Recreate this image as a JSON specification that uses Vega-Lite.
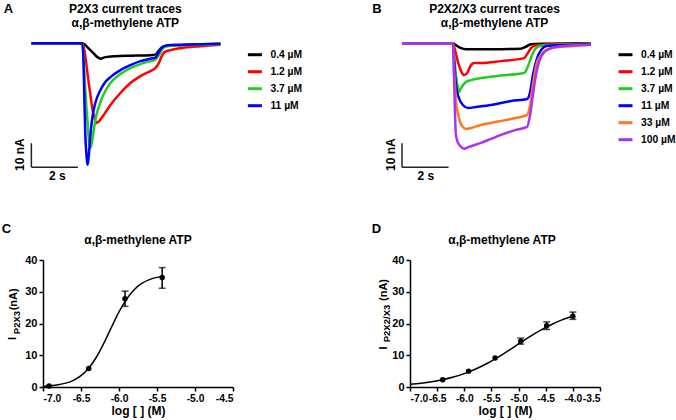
{
"$schema": "https://vega.github.io/schema/vega-lite/v6.json",
"background": "white",
"padding": {"left": 1, "top": 2, "right": 0, "bottom": 2},
"config": {
  "view": {"stroke": null},
  "font": "Liberation Sans",
  "axis": {"domainColor": "black", "domainWidth": 1.5, "tickColor": "black", "tickWidth": 1.5, "tickSize": 4, "labelColor": "black", "labelFont": "Liberation Sans", "labelFontWeight": "bold", "labelFontSize": 11, "labelPadding": 2, "titleFont": "Liberation Sans", "titleFontWeight": "bold", "titleFontSize": 12, "titleColor": "black", "grid": false, "labelOverlap": false},
  "axisX": {"labelFontSize": 10.3},
  "legend": {"orient": "none", "symbolType": "stroke", "symbolStrokeWidth": 3, "symbolSize": 196, "labelFont": "Liberation Sans", "labelFontWeight": "bold", "labelFontSize": 10.3, "labelColor": "black", "rowPadding": 2, "labelOffset": 7, "padding": 0, "title": null}
},
"datasets": {
  "traceA": [
    {"c": "0.4 µM", "t": 0, "I": 0}, {"c": "0.4 µM", "t": 2.11, "I": 0}, {"c": "0.4 µM", "t": 2.24, "I": -0.21}, {"c": "0.4 µM", "t": 2.45, "I": -2.08}, {"c": "0.4 µM", "t": 2.67, "I": -4.17}, {"c": "0.4 µM", "t": 2.84, "I": -5.83}, {"c": "0.4 µM", "t": 2.97, "I": -6.46}, {"c": "0.4 µM", "t": 3.18, "I": -5.83}, {"c": "0.4 µM", "t": 3.61, "I": -5.42}, {"c": "0.4 µM", "t": 4.26, "I": -5.21}, {"c": "0.4 µM", "t": 5.12, "I": -5.0}, {"c": "0.4 µM", "t": 5.33, "I": -4.79}, {"c": "0.4 µM", "t": 5.46, "I": -3.33}, {"c": "0.4 µM", "t": 5.63, "I": -1.67}, {"c": "0.4 µM", "t": 5.89, "I": -1.04}, {"c": "0.4 µM", "t": 6.41, "I": -0.83}, {"c": "0.4 µM", "t": 7.27, "I": -0.42}, {"c": "0.4 µM", "t": 8.13, "I": -0.21},
    {"c": "1.2 µM", "t": 0, "I": 0}, {"c": "1.2 µM", "t": 2.19, "I": 0}, {"c": "1.2 µM", "t": 2.28, "I": -2.92}, {"c": "1.2 µM", "t": 2.37, "I": -9.17}, {"c": "1.2 µM", "t": 2.45, "I": -15.42}, {"c": "1.2 µM", "t": 2.54, "I": -21.67}, {"c": "1.2 µM", "t": 2.62, "I": -27.08}, {"c": "1.2 µM", "t": 2.71, "I": -31.25}, {"c": "1.2 µM", "t": 2.80, "I": -33.33}, {"c": "1.2 µM", "t": 2.88, "I": -32.92}, {"c": "1.2 µM", "t": 3.05, "I": -30.83}, {"c": "1.2 µM", "t": 3.40, "I": -25.83}, {"c": "1.2 µM", "t": 3.83, "I": -20.83}, {"c": "1.2 µM", "t": 4.26, "I": -16.67}, {"c": "1.2 µM", "t": 4.69, "I": -13.75}, {"c": "1.2 µM", "t": 5.12, "I": -11.67}, {"c": "1.2 µM", "t": 5.33, "I": -10.42}, {"c": "1.2 µM", "t": 5.46, "I": -8.75}, {"c": "1.2 µM", "t": 5.59, "I": -5.83}, {"c": "1.2 µM", "t": 5.72, "I": -3.75}, {"c": "1.2 µM", "t": 5.98, "I": -2.92}, {"c": "1.2 µM", "t": 6.41, "I": -2.08}, {"c": "1.2 µM", "t": 7.27, "I": -1.25}, {"c": "1.2 µM", "t": 8.13, "I": -0.63},
    {"c": "3.7 µM", "t": 0, "I": 0}, {"c": "3.7 µM", "t": 2.19, "I": 0}, {"c": "3.7 µM", "t": 2.24, "I": -5.0}, {"c": "3.7 µM", "t": 2.32, "I": -19.58}, {"c": "3.7 µM", "t": 2.41, "I": -32.08}, {"c": "3.7 µM", "t": 2.49, "I": -41.67}, {"c": "3.7 µM", "t": 2.54, "I": -43.75}, {"c": "3.7 µM", "t": 2.62, "I": -40.42}, {"c": "3.7 µM", "t": 2.75, "I": -32.08}, {"c": "3.7 µM", "t": 2.97, "I": -24.58}, {"c": "3.7 µM", "t": 3.18, "I": -20.0}, {"c": "3.7 µM", "t": 3.40, "I": -16.67}, {"c": "3.7 µM", "t": 3.83, "I": -12.92}, {"c": "3.7 µM", "t": 4.26, "I": -10.42}, {"c": "3.7 µM", "t": 4.69, "I": -8.75}, {"c": "3.7 µM", "t": 5.12, "I": -7.5}, {"c": "3.7 µM", "t": 5.33, "I": -6.88}, {"c": "3.7 µM", "t": 5.46, "I": -5.42}, {"c": "3.7 µM", "t": 5.63, "I": -2.5}, {"c": "3.7 µM", "t": 5.81, "I": -1.25}, {"c": "3.7 µM", "t": 6.41, "I": -0.83}, {"c": "3.7 µM", "t": 8.13, "I": -0.42},
    {"c": "11 µM", "t": 0, "I": 0}, {"c": "11 µM", "t": 2.19, "I": 0}, {"c": "11 µM", "t": 2.24, "I": -7.08}, {"c": "11 µM", "t": 2.28, "I": -23.75}, {"c": "11 µM", "t": 2.32, "I": -38.33}, {"c": "11 µM", "t": 2.37, "I": -46.67}, {"c": "11 µM", "t": 2.41, "I": -50.83}, {"c": "11 µM", "t": 2.45, "I": -48.75}, {"c": "11 µM", "t": 2.54, "I": -38.33}, {"c": "11 µM", "t": 2.62, "I": -31.25}, {"c": "11 µM", "t": 2.75, "I": -25.0}, {"c": "11 µM", "t": 2.97, "I": -19.58}, {"c": "11 µM", "t": 3.18, "I": -16.25}, {"c": "11 µM", "t": 3.40, "I": -14.17}, {"c": "11 µM", "t": 3.83, "I": -11.25}, {"c": "11 µM", "t": 4.26, "I": -9.17}, {"c": "11 µM", "t": 4.69, "I": -7.5}, {"c": "11 µM", "t": 5.12, "I": -6.46}, {"c": "11 µM", "t": 5.33, "I": -6.04}, {"c": "11 µM", "t": 5.46, "I": -4.17}, {"c": "11 µM", "t": 5.63, "I": -1.67}, {"c": "11 µM", "t": 5.85, "I": -0.83}, {"c": "11 µM", "t": 6.41, "I": -0.63}, {"c": "11 µM", "t": 8.13, "I": -0.21}
  ],
  "traceB": [
    {"c": "0.4 µM", "t": 0, "I": 0}, {"c": "0.4 µM", "t": 2.19, "I": 0}, {"c": "0.4 µM", "t": 2.32, "I": -0.83}, {"c": "0.4 µM", "t": 2.54, "I": -2.08}, {"c": "0.4 µM", "t": 2.75, "I": -2.5}, {"c": "0.4 µM", "t": 4.26, "I": -2.5}, {"c": "0.4 µM", "t": 5.11, "I": -2.29}, {"c": "0.4 µM", "t": 5.29, "I": -1.67}, {"c": "0.4 µM", "t": 5.55, "I": -0.42}, {"c": "0.4 µM", "t": 5.98, "I": -0.21}, {"c": "0.4 µM", "t": 8.13, "I": 0},
    {"c": "1.2 µM", "t": 0, "I": 0}, {"c": "1.2 µM", "t": 2.19, "I": 0}, {"c": "1.2 µM", "t": 2.28, "I": -2.92}, {"c": "1.2 µM", "t": 2.41, "I": -7.92}, {"c": "1.2 µM", "t": 2.54, "I": -11.67}, {"c": "1.2 µM", "t": 2.67, "I": -13.33}, {"c": "1.2 µM", "t": 2.80, "I": -12.5}, {"c": "1.2 µM", "t": 2.97, "I": -9.17}, {"c": "1.2 µM", "t": 3.10, "I": -8.33}, {"c": "1.2 µM", "t": 3.40, "I": -8.33}, {"c": "1.2 µM", "t": 4.26, "I": -7.5}, {"c": "1.2 µM", "t": 5.25, "I": -6.25}, {"c": "1.2 µM", "t": 5.38, "I": -4.58}, {"c": "1.2 µM", "t": 5.55, "I": -2.08}, {"c": "1.2 µM", "t": 5.76, "I": -0.83}, {"c": "1.2 µM", "t": 6.41, "I": -0.42}, {"c": "1.2 µM", "t": 8.13, "I": -0.21},
    {"c": "3.7 µM", "t": 0, "I": 0}, {"c": "3.7 µM", "t": 2.19, "I": 0}, {"c": "3.7 µM", "t": 2.24, "I": -5.0}, {"c": "3.7 µM", "t": 2.32, "I": -13.33}, {"c": "3.7 µM", "t": 2.41, "I": -18.75}, {"c": "3.7 µM", "t": 2.45, "I": -20.42}, {"c": "3.7 µM", "t": 2.54, "I": -18.75}, {"c": "3.7 µM", "t": 2.75, "I": -16.25}, {"c": "3.7 µM", "t": 2.97, "I": -15.42}, {"c": "3.7 µM", "t": 3.40, "I": -14.58}, {"c": "3.7 µM", "t": 4.26, "I": -13.54}, {"c": "3.7 µM", "t": 5.25, "I": -12.5}, {"c": "3.7 µM", "t": 5.42, "I": -9.58}, {"c": "3.7 µM", "t": 5.59, "I": -5.0}, {"c": "3.7 µM", "t": 5.76, "I": -2.08}, {"c": "3.7 µM", "t": 5.98, "I": -1.04}, {"c": "3.7 µM", "t": 6.84, "I": -0.63}, {"c": "3.7 µM", "t": 8.13, "I": -0.21},
    {"c": "11 µM", "t": 0, "I": 0}, {"c": "11 µM", "t": 2.19, "I": 0}, {"c": "11 µM", "t": 2.24, "I": -7.08}, {"c": "11 µM", "t": 2.32, "I": -17.5}, {"c": "11 µM", "t": 2.45, "I": -22.92}, {"c": "11 µM", "t": 2.62, "I": -25.83}, {"c": "11 µM", "t": 2.84, "I": -27.08}, {"c": "11 µM", "t": 3.18, "I": -26.67}, {"c": "11 µM", "t": 3.83, "I": -25.83}, {"c": "11 µM", "t": 4.69, "I": -24.17}, {"c": "11 µM", "t": 5.38, "I": -23.33}, {"c": "11 µM", "t": 5.51, "I": -20.42}, {"c": "11 µM", "t": 5.63, "I": -13.33}, {"c": "11 µM", "t": 5.81, "I": -6.25}, {"c": "11 µM", "t": 5.98, "I": -2.92}, {"c": "11 µM", "t": 6.19, "I": -1.25}, {"c": "11 µM", "t": 6.84, "I": -0.83}, {"c": "11 µM", "t": 8.13, "I": -0.42},
    {"c": "33 µM", "t": 0, "I": 0}, {"c": "33 µM", "t": 2.19, "I": 0}, {"c": "33 µM", "t": 2.24, "I": -11.25}, {"c": "33 µM", "t": 2.32, "I": -23.75}, {"c": "33 µM", "t": 2.45, "I": -31.25}, {"c": "33 µM", "t": 2.58, "I": -34.58}, {"c": "33 µM", "t": 2.75, "I": -35.83}, {"c": "33 µM", "t": 2.97, "I": -35.42}, {"c": "33 µM", "t": 3.40, "I": -34.17}, {"c": "33 µM", "t": 3.83, "I": -33.33}, {"c": "33 µM", "t": 4.69, "I": -31.67}, {"c": "33 µM", "t": 5.38, "I": -30.0}, {"c": "33 µM", "t": 5.51, "I": -25.83}, {"c": "33 µM", "t": 5.63, "I": -17.5}, {"c": "33 µM", "t": 5.81, "I": -7.92}, {"c": "33 µM", "t": 5.98, "I": -5.0}, {"c": "33 µM", "t": 6.41, "I": -2.08}, {"c": "33 µM", "t": 7.27, "I": -1.25}, {"c": "33 µM", "t": 8.13, "I": -0.63},
    {"c": "100 µM", "t": 0, "I": 0}, {"c": "100 µM", "t": 2.19, "I": 0}, {"c": "100 µM", "t": 2.24, "I": -15.42}, {"c": "100 µM", "t": 2.28, "I": -30.0}, {"c": "100 µM", "t": 2.32, "I": -38.33}, {"c": "100 µM", "t": 2.41, "I": -41.67}, {"c": "100 µM", "t": 2.54, "I": -43.33}, {"c": "100 µM", "t": 2.67, "I": -44.17}, {"c": "100 µM", "t": 2.88, "I": -43.33}, {"c": "100 µM", "t": 3.40, "I": -41.67}, {"c": "100 µM", "t": 3.83, "I": -40.0}, {"c": "100 µM", "t": 4.26, "I": -38.33}, {"c": "100 µM", "t": 4.90, "I": -36.25}, {"c": "100 µM", "t": 5.38, "I": -35.0}, {"c": "100 µM", "t": 5.51, "I": -30.0}, {"c": "100 µM", "t": 5.63, "I": -21.67}, {"c": "100 µM", "t": 5.76, "I": -13.33}, {"c": "100 µM", "t": 5.89, "I": -7.92}, {"c": "100 µM", "t": 6.11, "I": -3.75}, {"c": "100 µM", "t": 6.41, "I": -2.08}, {"c": "100 µM", "t": 6.84, "I": -1.25}, {"c": "100 µM", "t": 8.13, "I": -0.63}
  ],
  "scalebar": [
    {"t": 0, "I": -51.8, "t2": 0, "I2": -41.8},
    {"t": 0, "I": -51.8, "t2": 2, "I2": -51.8}
  ],
  "fitC": [
    {"logc": -7.0, "I": 0.22}, {"logc": -6.9, "I": 0.39}, {"logc": -6.8, "I": 0.69}, {"logc": -6.7, "I": 1.22}, {"logc": -6.6, "I": 2.11}, {"logc": -6.5, "I": 3.58}, {"logc": -6.4, "I": 5.91}, {"logc": -6.3, "I": 9.29}, {"logc": -6.2, "I": 13.73}, {"logc": -6.1, "I": 18.77}, {"logc": -6.0, "I": 23.65}, {"logc": -5.9, "I": 27.69}, {"logc": -5.8, "I": 30.65}, {"logc": -5.7, "I": 32.6}, {"logc": -5.6, "I": 33.81}, {"logc": -5.5, "I": 34.53}, {"logc": -5.43, "I": 34.84}
  ],
  "ptsC": [
    {"logc": -6.92, "I": 0.3}, {"logc": -6.398, "I": 5.8}, {"logc": -5.921, "I": 27.8}, {"logc": -5.432, "I": 34.5}
  ],
  "errC": [
    {"logc": -5.921, "lo": 25.4, "hi": 30.2}, {"logc": -5.432, "lo": 31.1, "hi": 37.6}
  ],
  "fitD": [
    {"logc": -7.0, "I": 0.87}, {"logc": -6.8, "I": 1.21}, {"logc": -6.6, "I": 1.67}, {"logc": -6.4, "I": 2.3}, {"logc": -6.2, "I": 3.14}, {"logc": -6.0, "I": 4.22}, {"logc": -5.8, "I": 5.59}, {"logc": -5.6, "I": 7.25}, {"logc": -5.4, "I": 9.19}, {"logc": -5.2, "I": 11.32}, {"logc": -5.0, "I": 13.56}, {"logc": -4.8, "I": 15.77}, {"logc": -4.6, "I": 17.81}, {"logc": -4.4, "I": 19.62}, {"logc": -4.2, "I": 21.13}, {"logc": -4.0, "I": 22.35}
  ],
  "ptsD": [
    {"logc": -6.398, "I": 2.3}, {"logc": -5.921, "I": 5.0}, {"logc": -5.432, "I": 9.1}, {"logc": -4.959, "I": 14.4}, {"logc": -4.482, "I": 19.3}, {"logc": -4.0, "I": 22.3}
  ],
  "errD": [
    {"logc": -4.959, "lo": 13.5, "hi": 15.4}, {"logc": -4.482, "lo": 18.1, "hi": 20.5}, {"logc": -4.0, "lo": 21.3, "hi": 23.6}
  ]
},
"columns": 2,
"align": "none",
"bounds": "flush",
"spacing": {"row": 90, "column": 177},
"resolve": {"scale": {"x": "independent", "y": "independent", "color": "independent"}, "legend": {"color": "independent"}},
"concat": [
  {
    "width": 190, "height": 134,
    "layer": [
      {
        "data": {"name": "traceA"},
        "mark": {"type": "line", "strokeWidth": 2.5, "interpolate": "monotone", "strokeJoin": "round"},
        "encoding": {
          "x": {"field": "t", "type": "quantitative", "scale": {"domain": [0.5, 8.672], "nice": false, "zero": false}, "axis": null},
          "y": {"field": "I", "type": "quantitative", "scale": {"domain": [-53, 3], "nice": false, "zero": false}, "axis": null},
          "color": {"field": "c", "type": "nominal", "scale": {"domain": ["0.4 µM", "1.2 µM", "3.7 µM", "11 µM"], "range": ["#000000", "#ff0000", "#22cc22", "#0000ff"]}, "legend": {"legendX": 203.4, "legendY": 10.2}}
        }
      },
      {
        "data": {"name": "scalebar"},
        "mark": {"type": "rule", "strokeWidth": 1.5, "color": "#222222"},
        "encoding": {"x": {"field": "t", "type": "quantitative"}, "y": {"field": "I", "type": "quantitative"}, "x2": {"field": "t2"}, "y2": {"field": "I2"}}
      },
      {
        "data": {"values": [{}]},
        "mark": {"type": "text", "text": "10 nA", "angle": 270, "fontSize": 12, "fontWeight": "bold", "color": "black", "align": "center", "baseline": "middle"},
        "encoding": {"x": {"datum": -0.47}, "y": {"datum": -46.6}}
      },
      {
        "data": {"values": [{}]},
        "mark": {"type": "text", "text": "2 s", "fontSize": 12, "fontWeight": "bold", "color": "black", "align": "center", "baseline": "middle"},
        "encoding": {"x": {"datum": 1.12}, "y": {"datum": -55.6}}
      },
      {
        "data": {"values": [{}]},
        "mark": {"type": "text", "text": "A", "fontSize": 13, "fontWeight": "bold", "color": "black", "align": "center", "baseline": "middle"},
        "encoding": {"x": {"datum": -0.99}, "y": {"datum": 14.2}}
      },
      {
        "data": {"values": [{}]},
        "mark": {"type": "text", "text": ["P2X3 current traces", "α,β-methylene ATP"], "lineHeight": 14.5, "fontSize": 12, "fontWeight": "bold", "color": "black", "align": "center", "baseline": "middle"},
        "encoding": {"x": {"datum": 4.04}, "y": {"datum": 14.3}}
      }
    ]
  },
  {
    "width": 189, "height": 134,
    "layer": [
      {
        "data": {"name": "traceB"},
        "mark": {"type": "line", "strokeWidth": 2.5, "interpolate": "monotone", "strokeJoin": "round"},
        "encoding": {
          "x": {"field": "t", "type": "quantitative", "scale": {"domain": [0.344, 8.473], "nice": false, "zero": false}, "axis": null},
          "y": {"field": "I", "type": "quantitative", "scale": {"domain": [-53, 3], "nice": false, "zero": false}, "axis": null},
          "color": {"field": "c", "type": "nominal", "scale": {"domain": ["0.4 µM", "1.2 µM", "3.7 µM", "11 µM", "33 µM", "100 µM"], "range": ["#000000", "#ff0000", "#22cc22", "#0000ff", "#ff7722", "#aa33ee"]}, "legend": {"legendX": 207, "legendY": 10.2}}
        }
      },
      {
        "data": {"name": "scalebar"},
        "mark": {"type": "rule", "strokeWidth": 1.5, "color": "#222222"},
        "encoding": {"x": {"field": "t", "type": "quantitative"}, "y": {"field": "I", "type": "quantitative"}, "x2": {"field": "t2"}, "y2": {"field": "I2"}}
      },
      {
        "data": {"values": [{}]},
        "mark": {"type": "text", "text": "10 nA", "angle": 270, "fontSize": 12, "fontWeight": "bold", "color": "black", "align": "center", "baseline": "middle"},
        "encoding": {"x": {"datum": -0.47}, "y": {"datum": -46.6}}
      },
      {
        "data": {"values": [{}]},
        "mark": {"type": "text", "text": "2 s", "fontSize": 12, "fontWeight": "bold", "color": "black", "align": "center", "baseline": "middle"},
        "encoding": {"x": {"datum": 1.03}, "y": {"datum": -55.6}}
      },
      {
        "data": {"values": [{}]},
        "mark": {"type": "text", "text": "B", "fontSize": 13, "fontWeight": "bold", "color": "black", "align": "center", "baseline": "middle"},
        "encoding": {"x": {"datum": -1.08}, "y": {"datum": 14.2}}
      },
      {
        "data": {"values": [{}]},
        "mark": {"type": "text", "text": ["P2X2/X3 current traces", "α,β-methylene ATP"], "lineHeight": 14.5, "fontSize": 12, "fontWeight": "bold", "color": "black", "align": "center", "baseline": "middle"},
        "encoding": {"x": {"datum": 3.98}, "y": {"datum": 14.3}}
      }
    ]
  },
  {
    "width": 190, "height": 127,
    "layer": [
      {
        "data": {"name": "fitC"},
        "mark": {"type": "line", "color": "black", "strokeWidth": 1.5, "interpolate": "monotone"},
        "encoding": {
          "x": {"field": "logc", "type": "quantitative", "scale": {"domain": [-7, -4.5], "nice": false, "zero": false}, "axis": {"values": [-7, -6.5, -6, -5.5, -5, -4.5], "labelExpr": "replace(format(datum.value, '.1f'), '\u2212', '-')", "title": "log [ ] (M)", "titlePadding": 2}},
          "y": {"field": "I", "type": "quantitative", "scale": {"domain": [0, 40], "nice": false}, "axis": {"values": [0, 10, 20, 30, 40], "title": null}}
        }
      },
      {
        "data": {"name": "errC"},
        "mark": {"type": "rule", "color": "black", "strokeWidth": 1.5},
        "encoding": {
          "x": {"field": "logc", "type": "quantitative", "axis": {"values": [-7, -6.5, -6, -5.5, -5, -4.5], "labelExpr": "replace(format(datum.value, '.1f'), '\u2212', '-')", "title": "log [ ] (M)", "titlePadding": 2}},
          "y": {"field": "lo", "type": "quantitative", "axis": {"values": [0, 10, 20, 30, 40], "title": null}}, "y2": {"field": "hi"}}
      },
      {
        "data": {"name": "errC"},
        "mark": {"type": "tick", "orient": "horizontal", "size": 7, "thickness": 1.5, "color": "black"},
        "encoding": {
          "x": {"field": "logc", "type": "quantitative", "axis": {"values": [-7, -6.5, -6, -5.5, -5, -4.5], "labelExpr": "replace(format(datum.value, '.1f'), '\u2212', '-')", "title": "log [ ] (M)", "titlePadding": 2}},
          "y": {"field": "lo", "type": "quantitative", "axis": {"values": [0, 10, 20, 30, 40], "title": null}}}
      },
      {
        "data": {"name": "errC"},
        "mark": {"type": "tick", "orient": "horizontal", "size": 7, "thickness": 1.5, "color": "black"},
        "encoding": {
          "x": {"field": "logc", "type": "quantitative", "axis": {"values": [-7, -6.5, -6, -5.5, -5, -4.5], "labelExpr": "replace(format(datum.value, '.1f'), '\u2212', '-')", "title": "log [ ] (M)", "titlePadding": 2}},
          "y": {"field": "hi", "type": "quantitative", "axis": {"values": [0, 10, 20, 30, 40], "title": null}}}
      },
      {
        "data": {"name": "ptsC"},
        "mark": {"type": "point", "filled": true, "size": 30, "color": "black", "opacity": 1},
        "encoding": {
          "x": {"field": "logc", "type": "quantitative", "axis": {"values": [-7, -6.5, -6, -5.5, -5, -4.5], "labelExpr": "replace(format(datum.value, '.1f'), '\u2212', '-')", "title": "log [ ] (M)", "titlePadding": 2}},
          "y": {"field": "I", "type": "quantitative", "axis": {"values": [0, 10, 20, 30, 40], "title": null}}}
      },
      {
        "data": {"values": [{}]},
        "mark": {"type": "text", "text": "C", "fontSize": 13, "fontWeight": "bold", "color": "black", "align": "center", "baseline": "middle"},
        "encoding": {
          "x": {"datum": -7.48, "axis": {"values": [-7, -6.5, -6, -5.5, -5, -4.5], "labelExpr": "replace(format(datum.value, '.1f'), '\u2212', '-')", "title": "log [ ] (M)", "titlePadding": 2}},
          "y": {"datum": 49.8, "axis": {"values": [0, 10, 20, 30, 40], "title": null}}}
      },
      {
        "data": {"values": [{}]},
        "mark": {"type": "text", "text": "α,β-methylene ATP", "fontSize": 12, "fontWeight": "bold", "color": "black", "align": "center", "baseline": "middle"},
        "encoding": {
          "x": {"datum": -5.75, "axis": {"values": [-7, -6.5, -6, -5.5, -5, -4.5], "labelExpr": "replace(format(datum.value, '.1f'), '\u2212', '-')", "title": "log [ ] (M)", "titlePadding": 2}},
          "y": {"datum": 46.3, "axis": {"values": [0, 10, 20, 30, 40], "title": null}}}
      },
      {
        "data": {"values": [{}]},
        "mark": {"type": "text", "text": "I", "angle": 270, "fontSize": 11, "fontWeight": "bold", "color": "black", "align": "center", "baseline": "middle"},
        "encoding": {
          "x": {"datum": -7.395, "axis": {"values": [-7, -6.5, -6, -5.5, -5, -4.5], "labelExpr": "replace(format(datum.value, '.1f'), '\u2212', '-')", "title": "log [ ] (M)", "titlePadding": 2}},
          "y": {"datum": 15.3, "axis": {"values": [0, 10, 20, 30, 40], "title": null}}}
      },
      {
        "data": {"values": [{}]},
        "mark": {"type": "text", "text": "P2X3", "angle": 270, "fontSize": 9.5, "fontWeight": "bold", "color": "black", "align": "center", "baseline": "middle"},
        "encoding": {
          "x": {"datum": -7.342, "axis": {"values": [-7, -6.5, -6, -5.5, -5, -4.5], "labelExpr": "replace(format(datum.value, '.1f'), '\u2212', '-')", "title": "log [ ] (M)", "titlePadding": 2}},
          "y": {"datum": 20.3, "axis": {"values": [0, 10, 20, 30, 40], "title": null}}}
      },
      {
        "data": {"values": [{}]},
        "mark": {"type": "text", "text": "(nA)", "angle": 270, "fontSize": 11, "fontWeight": "bold", "color": "black", "align": "center", "baseline": "middle"},
        "encoding": {
          "x": {"datum": -7.388, "axis": {"values": [-7, -6.5, -6, -5.5, -5, -4.5], "labelExpr": "replace(format(datum.value, '.1f'), '\u2212', '-')", "title": "log [ ] (M)", "titlePadding": 2}},
          "y": {"datum": 27.6, "axis": {"values": [0, 10, 20, 30, 40], "title": null}}}
      }
    ]
  },
  {
    "width": 190, "height": 127,
    "layer": [
      {
        "data": {"name": "fitD"},
        "mark": {"type": "line", "color": "black", "strokeWidth": 1.5, "interpolate": "monotone"},
        "encoding": {
          "x": {"field": "logc", "type": "quantitative", "scale": {"domain": [-7, -3.5], "nice": false, "zero": false}, "axis": {"values": [-7, -6.5, -6, -5.5, -5, -4.5, -4, -3.5], "labelExpr": "replace(format(datum.value, '.1f'), '\u2212', '-')", "title": "log [ ] (M)", "titlePadding": 2}},
          "y": {"field": "I", "type": "quantitative", "scale": {"domain": [0, 40], "nice": false}, "axis": {"values": [0, 10, 20, 30, 40], "title": null}}
        }
      },
      {
        "data": {"name": "errD"},
        "mark": {"type": "rule", "color": "black", "strokeWidth": 1.5},
        "encoding": {
          "x": {"field": "logc", "type": "quantitative", "axis": {"values": [-7, -6.5, -6, -5.5, -5, -4.5, -4, -3.5], "labelExpr": "replace(format(datum.value, '.1f'), '\u2212', '-')", "title": "log [ ] (M)", "titlePadding": 2}},
          "y": {"field": "lo", "type": "quantitative", "axis": {"values": [0, 10, 20, 30, 40], "title": null}}, "y2": {"field": "hi"}}
      },
      {
        "data": {"name": "errD"},
        "mark": {"type": "tick", "orient": "horizontal", "size": 7, "thickness": 1.5, "color": "black"},
        "encoding": {
          "x": {"field": "logc", "type": "quantitative", "axis": {"values": [-7, -6.5, -6, -5.5, -5, -4.5, -4, -3.5], "labelExpr": "replace(format(datum.value, '.1f'), '\u2212', '-')", "title": "log [ ] (M)", "titlePadding": 2}},
          "y": {"field": "lo", "type": "quantitative", "axis": {"values": [0, 10, 20, 30, 40], "title": null}}}
      },
      {
        "data": {"name": "errD"},
        "mark": {"type": "tick", "orient": "horizontal", "size": 7, "thickness": 1.5, "color": "black"},
        "encoding": {
          "x": {"field": "logc", "type": "quantitative", "axis": {"values": [-7, -6.5, -6, -5.5, -5, -4.5, -4, -3.5], "labelExpr": "replace(format(datum.value, '.1f'), '\u2212', '-')", "title": "log [ ] (M)", "titlePadding": 2}},
          "y": {"field": "hi", "type": "quantitative", "axis": {"values": [0, 10, 20, 30, 40], "title": null}}}
      },
      {
        "data": {"name": "ptsD"},
        "mark": {"type": "point", "filled": true, "size": 30, "color": "black", "opacity": 1},
        "encoding": {
          "x": {"field": "logc", "type": "quantitative", "axis": {"values": [-7, -6.5, -6, -5.5, -5, -4.5, -4, -3.5], "labelExpr": "replace(format(datum.value, '.1f'), '\u2212', '-')", "title": "log [ ] (M)", "titlePadding": 2}},
          "y": {"field": "I", "type": "quantitative", "axis": {"values": [0, 10, 20, 30, 40], "title": null}}}
      },
      {
        "data": {"values": [{}]},
        "mark": {"type": "text", "text": "D", "fontSize": 13, "fontWeight": "bold", "color": "black", "align": "center", "baseline": "middle"},
        "encoding": {
          "x": {"datum": -7.62, "axis": {"values": [-7, -6.5, -6, -5.5, -5, -4.5, -4, -3.5], "labelExpr": "replace(format(datum.value, '.1f'), '\u2212', '-')", "title": "log [ ] (M)", "titlePadding": 2}},
          "y": {"datum": 49.8, "axis": {"values": [0, 10, 20, 30, 40], "title": null}}}
      },
      {
        "data": {"values": [{}]},
        "mark": {"type": "text", "text": "α,β-methylene ATP", "fontSize": 12, "fontWeight": "bold", "color": "black", "align": "center", "baseline": "middle"},
        "encoding": {
          "x": {"datum": -5.305, "axis": {"values": [-7, -6.5, -6, -5.5, -5, -4.5, -4, -3.5], "labelExpr": "replace(format(datum.value, '.1f'), '\u2212', '-')", "title": "log [ ] (M)", "titlePadding": 2}},
          "y": {"datum": 46.3, "axis": {"values": [0, 10, 20, 30, 40], "title": null}}}
      },
      {
        "data": {"values": [{}]},
        "mark": {"type": "text", "text": "I", "angle": 270, "fontSize": 11, "fontWeight": "bold", "color": "black", "align": "center", "baseline": "middle"},
        "encoding": {
          "x": {"datum": -7.488, "axis": {"values": [-7, -6.5, -6, -5.5, -5, -4.5, -4, -3.5], "labelExpr": "replace(format(datum.value, '.1f'), '\u2212', '-')", "title": "log [ ] (M)", "titlePadding": 2}},
          "y": {"datum": 12.3, "axis": {"values": [0, 10, 20, 30, 40], "title": null}}}
      },
      {
        "data": {"values": [{}]},
        "mark": {"type": "text", "text": "P2X2/X3", "angle": 270, "fontSize": 9.5, "fontWeight": "bold", "color": "black", "align": "center", "baseline": "middle"},
        "encoding": {
          "x": {"datum": -7.424, "axis": {"values": [-7, -6.5, -6, -5.5, -5, -4.5, -4, -3.5], "labelExpr": "replace(format(datum.value, '.1f'), '\u2212', '-')", "title": "log [ ] (M)", "titlePadding": 2}},
          "y": {"datum": 20.0, "axis": {"values": [0, 10, 20, 30, 40], "title": null}}}
      },
      {
        "data": {"values": [{}]},
        "mark": {"type": "text", "text": "(nA)", "angle": 270, "fontSize": 11, "fontWeight": "bold", "color": "black", "align": "center", "baseline": "middle"},
        "encoding": {
          "x": {"datum": -7.47, "axis": {"values": [-7, -6.5, -6, -5.5, -5, -4.5, -4, -3.5], "labelExpr": "replace(format(datum.value, '.1f'), '\u2212', '-')", "title": "log [ ] (M)", "titlePadding": 2}},
          "y": {"datum": 30.55, "axis": {"values": [0, 10, 20, 30, 40], "title": null}}}
      }
    ]
  }
]
}
